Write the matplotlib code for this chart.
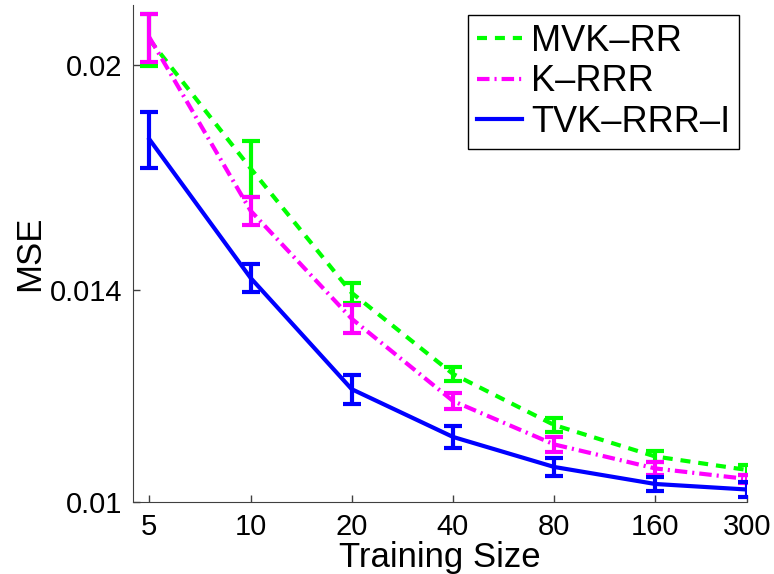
import matplotlib.pyplot as plt
import numpy as np

plt.rcParams['font.family'] = ['Liberation Sans', 'DejaVu Sans']

sizes = [5, 10, 20, 40, 80, 160, 300]
size_labels = ['5', '10', '20', '40', '80', '160', '300']

mvk_rr = [0.02083, 0.01698, 0.013935, 0.012254, 0.0113, 0.010749, 0.010522]
mvk_rr_err = [0.00086, 0.00076, 0.00022, 0.00014, 0.000125, 0.000094, 0.000084]
k_rrr = [0.0209, 0.015876, 0.013374, 0.011739, 0.010957, 0.010547, 0.010372]
k_rrr_err = [0.0008, 0.00035, 0.0003, 0.00015, 0.00013, 0.00011, 0.000066]
tvk_rrr_i = [0.01778, 0.014271, 0.01196, 0.011088, 0.010572, 0.01029, 0.0102]
tvk_rrr_i_err = [0.00079, 0.00032, 0.00027, 0.00019, 0.00015, 0.000115, 0.00012]

yticks = [0.01, 0.014, 0.02]
ytick_labels = ['0.01', '0.014', '0.02']

fig = plt.figure(figsize=(7.74, 5.74), dpi=100)
ax = fig.add_axes([133/774, 1 - 502/574, (747-133)/774, (502-5)/574])

series = [
    (mvk_rr, mvk_rr_err, '#00ff00', (0, (2.4, 1.9)), 'MVK–RR'),
    (k_rrr, k_rrr_err, '#ff00ff', (0, (3.0, 1.2, 0.5, 1.2)), 'K–RRR'),
    (tvk_rrr_i, tvk_rrr_i_err, '#0000ff', '-', 'TVK–RRR–I'),
]

handles = []
for vals, errs, col, ls, lab in series:
    h, = ax.plot(sizes, vals, color=col, linestyle=ls, linewidth=3, label=lab)
    ax.errorbar(sizes, vals, yerr=errs, fmt='none', ecolor=col,
                elinewidth=3, capsize=6.5, capthick=3)
    handles.append(h)

ax.set_xscale('log')
ax.set_yscale('log')
ax.set_xlim(4.47, 300)
ax.set_ylim(0.01, 0.022)

ax.set_xticks(sizes)
ax.set_xticklabels(size_labels)
ax.set_yticks(yticks)
ax.set_yticklabels(ytick_labels)
ax.minorticks_off()

ax.tick_params(direction='in', length=5, width=1, color='#404040',
               labelsize=21, pad=8)
for s in ['top', 'right']:
    ax.spines[s].set_visible(False)
for s in ['left', 'bottom']:
    ax.spines[s].set_color('#404040')

ax.set_xlabel('Training Size', fontsize=25, labelpad=0)
ax.set_ylabel('MSE', fontsize=25, labelpad=2)

leg = ax.legend(handles=handles, loc='upper right',
                bbox_to_anchor=(739/774, 1 - 15/574),
                bbox_transform=fig.transFigure, borderaxespad=0,
                fontsize=26, fancybox=False, framealpha=1,
                edgecolor='black', handlelength=1.25, handletextpad=0.25,
                borderpad=0.25, labelspacing=0.15)
leg.get_frame().set_linewidth(1)

fig.savefig('out.png', dpi=100)
